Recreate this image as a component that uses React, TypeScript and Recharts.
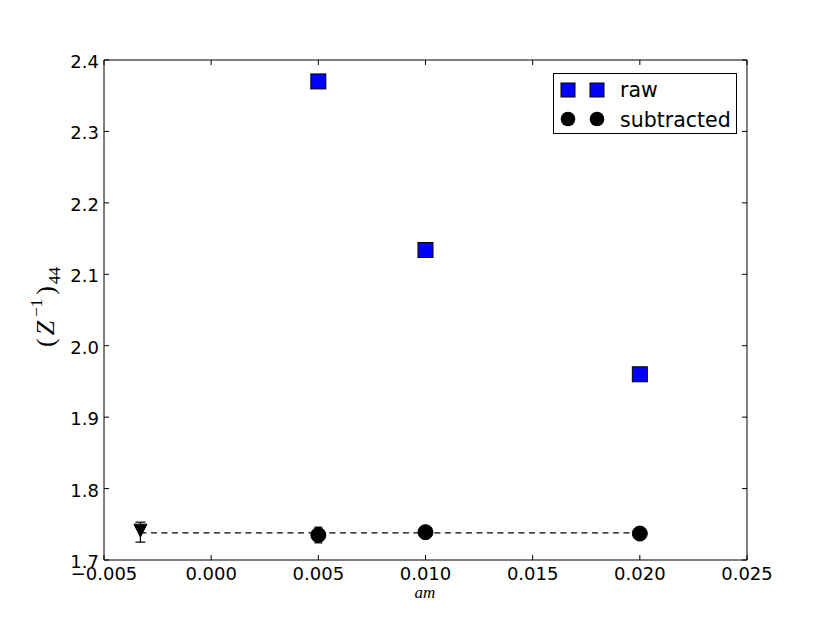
import React from "react";
import { ComposedChart, Scatter, XAxis, YAxis, ErrorBar, Legend } from "recharts";

const xTicks = [-0.005, 0, 0.005, 0.01, 0.015, 0.02, 0.025];
const yTicks = [1.7, 1.8, 1.9, 2.0, 2.1, 2.2, 2.3, 2.4];

const amValues = [0.005, 0.01, 0.02];
const rawValues = [2.370, 2.134, 1.960];
const subtractedValues = [1.735, 1.739, 1.737];
const subtractedErrors = [0.011, 0.003, 0.003];

const chiralX = [-0.0033];
const chiralValue = [1.739];
const chiralError = [0.014];

const fitX = [-0.0033, 0.02];
const fitValue = [1.738, 1.738];

const rawData = amValues.map((x, i) => ({ x, y: rawValues[i] }));
const subData = amValues.map((x, i) => ({ x, y: subtractedValues[i], err: subtractedErrors[i] }));
const chiralData = chiralX.map((x, i) => ({ x, y: chiralValue[i], err: chiralError[i] }));
const fitData = fitX.map((x, i) => ({ x, y: fitValue[i] }));

const FONT = "'DejaVu Sans', sans-serif";
const MATH = "'Liberation Serif', 'DejaVu Serif', serif";
const TL = 5;

const fmtX = (v: number) => (v < 0 ? "\u2212" : "") + Math.abs(v).toFixed(3);
const fmtY = (v: number) => v.toFixed(1);

const BottomTick = (p: any) => (
  <g>
    <line x1={p.x} x2={p.x} y1={p.y} y2={p.y - TL} stroke="#000" strokeWidth={1} />
    <text x={p.x} y={p.y + 20} textAnchor="middle" fontFamily={FONT} fontSize={18} fill="#000">
      {fmtX(p.payload.value)}
    </text>
  </g>
);
const TopTick = (p: any) => (
  <line x1={p.x} x2={p.x} y1={p.y} y2={p.y + TL} stroke="#000" strokeWidth={1} />
);
const LeftTick = (p: any) => (
  <g>
    <line x1={p.x} x2={p.x + TL} y1={p.y} y2={p.y} stroke="#000" strokeWidth={1} />
    <text x={p.x - 5} y={p.y + 8} textAnchor="end" fontFamily={FONT} fontSize={18} fill="#000">
      {fmtY(p.payload.value)}
    </text>
  </g>
);
const RightTick = (p: any) => (
  <line x1={p.x} x2={p.x - TL} y1={p.y} y2={p.y} stroke="#000" strokeWidth={1} />
);

const Square = (p: any) => (
  <rect x={p.cx - 7.5} y={p.cy - 7.5} width={15} height={15} fill="#0000ff" stroke="#000" strokeWidth={1} />
);
const Dot = (p: any) => <circle cx={p.cx} cy={p.cy} r={7.5} fill="#000" stroke="#000" strokeWidth={1} />;
const DownTri = (p: any) => (
  <polygon
    points={`${p.cx - 6.5},${p.cy - 8} ${p.cx + 6.5},${p.cy - 8} ${p.cx},${p.cy + 5}`}
    fill="#000"
    stroke="#000"
    strokeWidth={1}
  />
);
const NoShape = () => <g />;

const LegendBox = () => (
  <div
    style={{
      position: "absolute",
      left: 553,
      top: 73,
      width: 182,
      height: 59,
      border: "1px solid #000",
      background: "#fff",
      boxSizing: "content-box",
    }}
  >
    <svg width={182} height={59} style={{ position: "absolute", left: 0, top: 0 }}>
      <rect x={7} y={9} width={14} height={14} fill="#0000ff" stroke="#000" />
      <rect x={36} y={9} width={14} height={14} fill="#0000ff" stroke="#000" />
      <text x={66} y={23} fontFamily={FONT} fontSize={20.5} fill="#000">raw</text>
      <circle cx={14} cy={45} r={7.3} fill="#000" />
      <circle cx={43} cy={45} r={7.3} fill="#000" />
      <text x={66} y={53} fontFamily={FONT} fontSize={20.5} fill="#000">subtracted</text>
    </svg>
  </div>
);

export default function App() {
  return (
    <div style={{ position: "absolute", left: 0, top: 0, width: 830, height: 623, background: "#fff" }}>
      <ComposedChart
        width={830}
        height={623}
        margin={{ top: 50, right: 63, bottom: 33, left: 44 }}
        style={{ position: "absolute", left: 0, top: 0 }}
      >
        <XAxis
          xAxisId="b"
          dataKey="x"
          type="number"
          domain={[-0.005, 0.025]}
          ticks={xTicks}
          allowDataOverflow
          orientation="bottom"
          height={30}
          tickSize={0}
          tickMargin={0}
          tickLine={false}
          tick={BottomTick}
          axisLine={{ stroke: "#000", strokeWidth: 1 }}
          interval={0}
        />
        <XAxis
          xAxisId="t"
          dataKey="x"
          type="number"
          domain={[-0.005, 0.025]}
          ticks={xTicks}
          allowDataOverflow
          orientation="top"
          height={10}
          tickSize={0}
          tickMargin={0}
          tickLine={false}
          tick={TopTick}
          axisLine={{ stroke: "#000", strokeWidth: 1 }}
          interval={0}
        />
        <YAxis
          yAxisId="l"
          dataKey="y"
          type="number"
          domain={[1.7, 2.4]}
          ticks={yTicks}
          allowDataOverflow
          orientation="left"
          width={60}
          tickSize={0}
          tickMargin={0}
          tickLine={false}
          tick={LeftTick}
          axisLine={{ stroke: "#000", strokeWidth: 1 }}
          interval={0}
        />
        <YAxis
          yAxisId="r"
          dataKey="y"
          type="number"
          domain={[1.7, 2.4]}
          ticks={yTicks}
          allowDataOverflow
          orientation="right"
          width={20}
          tickSize={0}
          tickMargin={0}
          tickLine={false}
          tick={RightTick}
          axisLine={{ stroke: "#000", strokeWidth: 1 }}
          interval={0}
        />
        <Scatter
          name="fit"
          xAxisId="b"
          yAxisId="l"
          data={fitData}
          line={{ stroke: "#000", strokeWidth: 1.4, strokeDasharray: "6 4.5" }}
          shape={NoShape}
          isAnimationActive={false}
        />
        <Scatter name="raw" xAxisId="b" yAxisId="l" data={rawData} shape={Square} isAnimationActive={false} />
        <Scatter name="subtracted" xAxisId="b" yAxisId="l" data={subData} shape={Dot} isAnimationActive={false}>
          <ErrorBar dataKey="err" direction="y" width={4} stroke="#000" strokeWidth={1.2} />
        </Scatter>
        <Scatter name="chiral" xAxisId="b" yAxisId="l" data={chiralData} shape={DownTri} isAnimationActive={false}>
          <ErrorBar dataKey="err" direction="y" width={5} stroke="#000" strokeWidth={1.2} />
        </Scatter>
        <Legend content={() => null} />
      </ComposedChart>
      <LegendBox />
      <svg width={830} height={623} style={{ position: "absolute", left: 0, top: 0, pointerEvents: "none" }}>
        <text x={425} y={598} textAnchor="middle" fontFamily={MATH} fontStyle="italic" fontSize={17} fill="#000">
          am
        </text>
        <g transform="translate(54,307) rotate(-90)">
          <text x={0} y={0} textAnchor="middle" fontFamily={MATH} fontSize={26} fill="#000">
            <tspan>(</tspan>
            <tspan fontStyle="italic" dx={3}>Z</tspan>
            <tspan fontSize={17} dx={4} dy={-12}>{"\u22121"}</tspan>
            <tspan dx={4} dy={12}>)</tspan>
            <tspan fontSize={17} dx={2} dy={6}>44</tspan>
          </text>
        </g>
      </svg>
    </div>
  );
}
